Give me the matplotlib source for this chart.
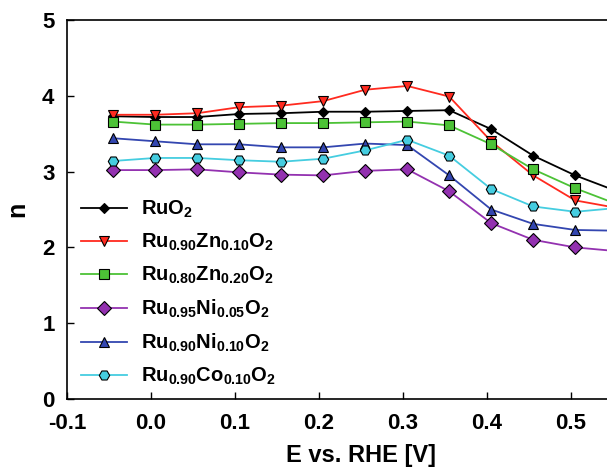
import matplotlib
matplotlib.use('Agg')
import matplotlib.pyplot as plt

plt.rcParams['font.family'] = ['Liberation Sans', 'DejaVu Sans']
plt.rcParams['font.weight'] = 'bold'
plt.rcParams['mathtext.fontset'] = 'custom'
plt.rcParams['mathtext.rm'] = 'Liberation Sans'
plt.rcParams['mathtext.bf'] = 'Liberation Sans:bold'
plt.rcParams['mathtext.default'] = 'rm'

# potential vs RHE (last point lies just past the visible edge)
E = [-0.045, 0.005, 0.055, 0.105, 0.155, 0.205, 0.255, 0.305, 0.355, 0.405, 0.455, 0.505, 0.555]

n_ruo2 = [3.73, 3.72, 3.72, 3.76, 3.77, 3.79, 3.79, 3.80, 3.81, 3.56, 3.21, 2.95, 2.74]
n_zn10 = [3.75, 3.75, 3.77, 3.85, 3.87, 3.93, 4.08, 4.13, 3.99, 3.40, 2.95, 2.62, 2.52]
n_zn20 = [3.66, 3.62, 3.62, 3.63, 3.64, 3.64, 3.65, 3.66, 3.61, 3.36, 3.03, 2.78, 2.57]
n_ni05 = [3.02, 3.02, 3.03, 2.99, 2.96, 2.95, 3.01, 3.03, 2.74, 2.32, 2.10, 2.00, 1.95]
n_ni10 = [3.44, 3.40, 3.36, 3.36, 3.32, 3.32, 3.37, 3.35, 2.95, 2.50, 2.31, 2.23, 2.22]
n_co10 = [3.14, 3.18, 3.18, 3.15, 3.13, 3.17, 3.28, 3.42, 3.21, 2.77, 2.54, 2.47, 2.52]

labels = [
    r'RuO$_\mathbf{2}$',
    r'Ru$_{0.90}$Zn$_{0.10}$O$_\mathbf{2}$',
    r'Ru$_{0.80}$Zn$_{0.20}$O$_\mathbf{2}$',
    r'Ru$_{0.95}$Ni$_{0.05}$O$_\mathbf{2}$',
    r'Ru$_{0.90}$Ni$_{0.10}$O$_\mathbf{2}$',
    r'Ru$_{0.90}$Co$_{0.10}$O$_\mathbf{2}$',
]
series = [n_ruo2, n_zn10, n_zn20, n_ni05, n_ni10, n_co10]
colors = ['black', '#ff2a1f', '#4cc236', '#9331b0', '#3346b0', '#45cde0']
markers = ['D', 'v', 's', 'D', '^', 'H']
msizes = [5, 7, 7, 7.5, 7, 7.5]

fig = plt.figure(figsize=(6.07, 4.71), dpi=100)
ax = fig.add_axes([67 / 607, 72 / 471, 588 / 607, 379 / 471])

for y, lab, c, m, ms in zip(series, labels, colors, markers, msizes):
    ax.plot(E, y, color=c, lw=1.3, marker=m, markersize=ms,
            markerfacecolor=c, markeredgecolor='black', markeredgewidth=0.8,
            label=lab)

ax.set_xlim(-0.1, 0.6)
ax.set_ylim(0, 5)
ax.set_xticks([-0.1, 0.0, 0.1, 0.2, 0.3, 0.4, 0.5])
ax.set_xticklabels(['-0.1', '0.0', '0.1', '0.2', '0.3', '0.4', '0.5'])
ax.set_yticks([0, 1, 2, 3, 4, 5])
ax.tick_params(direction='in', length=5, width=1, labelsize=16)
ax.tick_params(axis='x', pad=10)
ax.tick_params(axis='y', pad=9)
for s in ax.spines.values():
    s.set_linewidth(1.2)

ax.set_xlabel('E vs. RHE [V]', fontsize=17, fontweight='bold', labelpad=7)
ax.set_ylabel('n', fontsize=18, fontweight='bold', labelpad=9)

ax.legend(loc='upper left', bbox_to_anchor=(0.0, 0.565), frameon=False,
          fontsize=14.5, handlelength=2.3, labelspacing=0.58, handletextpad=0.65,
          borderaxespad=0.3)

fig.savefig('out.png', dpi=100)
